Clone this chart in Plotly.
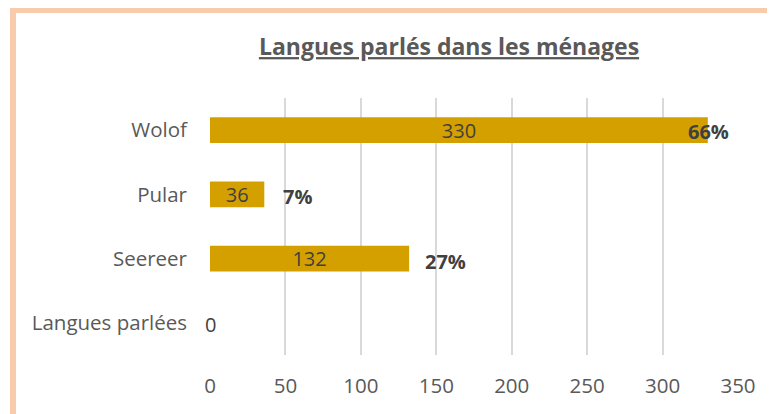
import plotly.graph_objects as go

# Data
categories = ["Langues parlées", "Seereer", "Pular", "Wolof"]
counts = [0, 132, 36, 330]
percent_labels = ["", "27%", "7%", "66%"]
x_ticks = [0, 50, 100, 150, 200, 250, 300, 350]

title_text = "Langues parlés dans les ménages"

FONT = "Open Sans"
BAR_COLOR = "#D4A000"
TICK_COLOR = "#595959"
LABEL_COLOR = "#404040"

# the page body adds an 8px offset, so the figure is 8px smaller
OFF = 8
W, H = 775 - OFF, 414 - OFF
ML, MR, MT, MB = 210 - OFF, 37, 98 - OFF, 59
PW, PH = W - ML - MR, H - MT - MB

fig = go.Figure()
fig.add_trace(go.Bar(
    y=categories,
    x=counts,
    orientation="h",
    marker=dict(color=BAR_COLOR, line=dict(width=0)),
    text=[str(v) if v != 0 else "" for v in counts],
    textposition="inside",
    insidetextanchor="middle",
    textangle=0,
    constraintext="none",
    cliponaxis=False,
    textfont=dict(family=FONT, size=20, color=LABEL_COLOR),
    insidetextfont=dict(family=FONT, size=20, color=LABEL_COLOR),
    hoverinfo="skip",
))

# zero-value labels sit centred on the axis origin
for cat, val in zip(categories, counts):
    if val == 0:
        fig.add_annotation(
            x=val, y=cat, xref="x", yref="y", text=str(val),
            showarrow=False, xanchor="center", yanchor="middle", yshift=-2,
            font=dict(family=FONT, size=20, color=LABEL_COLOR),
        )

# percent labels (per-label horizontal nudge, as in the original layout)
pct_xshift = {"Seereer": 14, "Pular": 17, "Wolof": -22}
pct_yshift = {"Seereer": -3, "Pular": -2, "Wolof": -1}
for cat, val, lab in zip(categories, counts, percent_labels):
    if not lab:
        continue
    fig.add_annotation(
        x=val, y=cat, xref="x", yref="y",
        text="<b>" + lab + "</b>", showarrow=False,
        xanchor="left", yanchor="middle",
        xshift=pct_xshift[cat], yshift=pct_yshift[cat],
        font=dict(family=FONT, size=20, color=LABEL_COLOR),
    )

# chart border (Excel-style outline)
fig.add_shape(
    type="rect", xref="paper", yref="paper",
    x0=(13 - OFF - ML) / PW, x1=1.6, y0=-1.0, y1=(MT + PH - (10 - OFF)) / PH,
    line=dict(color="#F8CBAD", width=6), fillcolor="rgba(0,0,0,0)",
    layer="below",
)

fig.update_layout(
    width=W, height=H,
    margin=dict(l=ML, r=MR, t=MT, b=MB, pad=0, autoexpand=False),
    paper_bgcolor="white", plot_bgcolor="white",
    showlegend=False,
    bargap=0.6,
    title=dict(
        text="<b><u>" + title_text + "</u></b>",
        x=(449 - OFF) / W, xref="container", xanchor="center",
        y=1 - (47 - OFF) / H, yref="container", yanchor="middle",
        font=dict(family=FONT, size=23, color=TICK_COLOR),
    ),
    xaxis=dict(
        range=[0, 350], tickvals=x_ticks, ticktext=[str(t) for t in x_ticks],
        showgrid=True, gridcolor="#D9D9D9", gridwidth=1.5,
        zeroline=False, showline=False, ticks="",
        tickfont=dict(family=FONT, size=20.5, color=TICK_COLOR),
        ticklabelstandoff=16,
        automargin=False,
        fixedrange=True,
    ),
    yaxis=dict(
        categoryorder="array", categoryarray=categories,
        showgrid=False, zeroline=False, showline=False, ticks="",
        tickfont=dict(family=FONT, size=20.5, color=TICK_COLOR),
        ticklabelstandoff=22,
        automargin=False,
        fixedrange=True,
    ),
)

fig.write_html("out.html")
